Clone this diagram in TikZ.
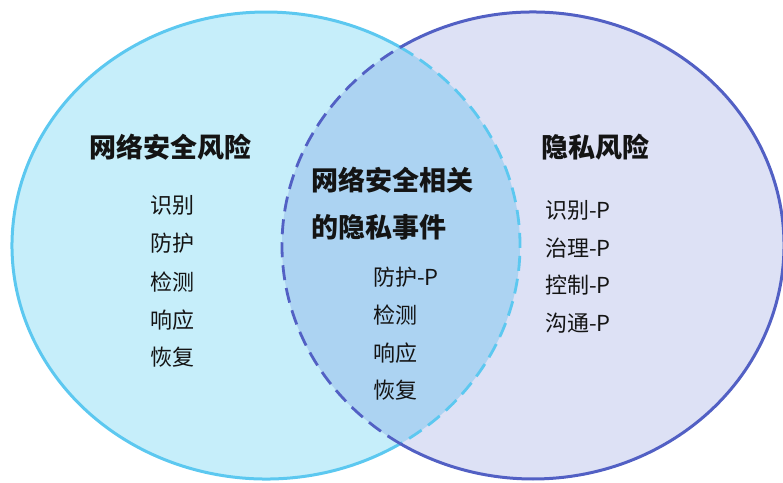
\documentclass[tikz,border=0pt]{standalone}
\usepackage{fontspec}
\setmainfont{Noto Sans CJK SC}
\usetikzlibrary{calc}
\definecolor{lfill}{RGB}{198,238,250}
\definecolor{lline}{RGB}{92,200,240}
\definecolor{rfill}{RGB}{221,225,245}
\definecolor{rline}{RGB}{82,96,196}
\definecolor{mfill}{RGB}{172,211,242}
\definecolor{txt}{RGB}{20,20,20}
\tikzset{
  solidline/.style={line width=3pt},
  dashline/.style={line width=2.8pt, dash pattern=on 15pt off 8pt},
  titletext/.style={anchor=west, inner sep=0pt, text=txt, font=\fontsize{27}{32}\selectfont\bfseries},
  itemtext/.style={anchor=west, inner sep=0pt, text=txt, font=\fontsize{22}{26}\selectfont},
}
\begin{document}
\begin{tikzpicture}[x=1pt,y=-1pt]
\useasboundingbox (0,0) rectangle (783,482);
\coordinate (L) at (266,245.5);
\coordinate (R) at (533,245.5);
% fills
\fill[lfill] (L) ellipse [x radius=254, y radius=233.5];
\fill[rfill] (R) ellipse [x radius=251, y radius=233.5];
\begin{scope}
  \clip (L) ellipse [x radius=254, y radius=233.5];
  \fill[mfill] (R) ellipse [x radius=251, y radius=233.5];
\end{scope}
% outlines
\draw[lline, solidline] ($(L)+(58.08:254 and 233.5)$) arc[start angle=58.08, end angle=301.92, x radius=254, y radius=233.5];
\draw[lline, dashline] ($(L)+(-58.08:254 and 233.5)$) arc[start angle=-58.08, end angle=58.08, x radius=254, y radius=233.5];
\draw[rline, solidline] ($(R)+(-121.92:251 and 233.5)$) arc[start angle=-121.92, end angle=121.92, x radius=251, y radius=233.5];
\draw[rline, dashline] ($(R)+(121.92:251 and 233.5)$) arc[start angle=121.92, end angle=238.08, x radius=251, y radius=233.5];
% left texts
\node[titletext] (lt) at (89,147) {网络安全风险};
\node[itemtext] (l1) at (150,205) {识别};
\node[itemtext] (l2) at (150,243) {防护};
\node[itemtext] (l3) at (150,282) {检测};
\node[itemtext] (l4) at (150,320) {响应};
\node[itemtext] (l5) at (150,357) {恢复};
% middle texts
\node[titletext] (mt1) at (311,180) {网络安全相关};
\node[titletext] (mt2) at (311,227) {的隐私事件};
\node[itemtext] (m1) at (373,277) {防护-P};
\node[itemtext] (m2) at (373,315) {检测};
\node[itemtext] (m3) at (373,353) {响应};
\node[itemtext] (m4) at (373,390) {恢复};
% right texts
\node[titletext] (rt) at (541,147) {隐私风险};
\node[itemtext] (r1) at (545,210) {识别-P};
\node[itemtext] (r2) at (545,248) {治理-P};
\node[itemtext] (r3) at (545,285) {控制-P};
\node[itemtext] (r4) at (545,323) {沟通-P};
\end{tikzpicture}
\end{document}
